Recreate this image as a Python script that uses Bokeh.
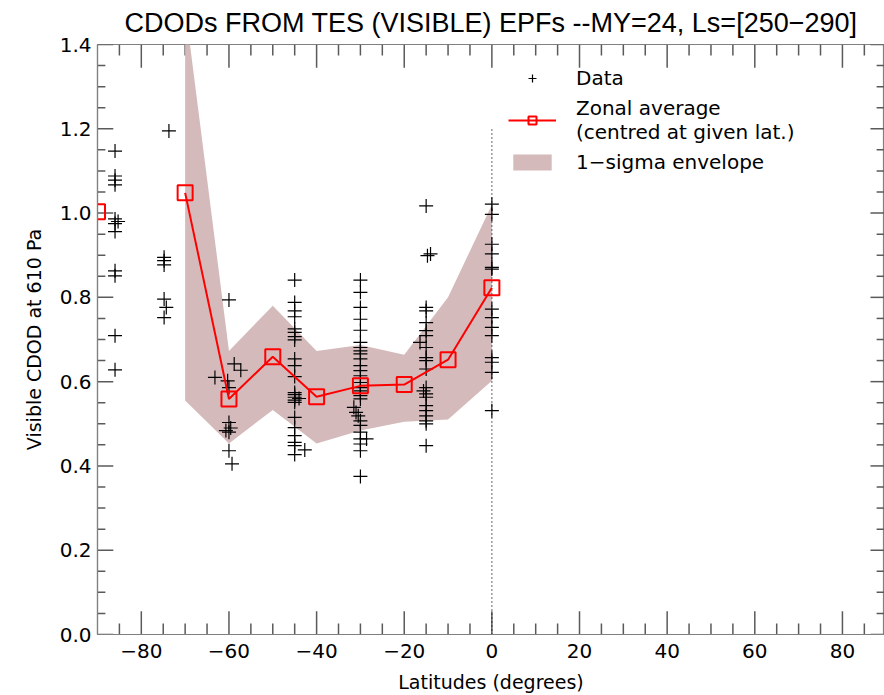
import math
from bokeh.plotting import figure
from bokeh.models import (Range1d, LinearAxis, FixedTicker, Legend, LegendItem,
                          ColumnDataSource)
from bokeh.embed import file_html
from bokeh.resources import INLINE

nan = float("nan")

# ---------------- data ----------------
zonal_lat = [-90, -80, -70, -60, -50, -40, -30, -20, -10, 0]
zonal_mean = [1.003, nan, 1.048, 0.559, 0.659, 0.564, 0.590, 0.593, 0.652, 0.823]

sigma_lat = [-70, -60, -50, -40, -30, -20, -10, 0]
sigma_upper = [1.49, 0.673, 0.780, 0.673, 0.687, 0.664, 0.800, 1.020]
sigma_lower = [0.555, 0.453, 0.533, 0.453, 0.484, 0.505, 0.510, 0.602]

data_lat = (
    [-86.0] * 11 + [-85.3]
    + [-74.8, -74.8, -74.8, -74.8, -74.3, -74.8, -73.7]
    + [-60.0, -58.8, -57.3, -63.2, -60.3, -60.0, -60.0, -60.7, -60.0, -59.6, -60.0, -59.3]
    + [-45.0] * 22 + [-42.7, -44.0]
    + [-30.0] * 18 + [-31.5, -31.0, -30.5] + [-30.0] * 4 + [-28.6, -30.0, -30.0, -30.0]
    + [-15.0, -14.0, -14.7, -15.0, -15.0, -15.0, -15.0, -15.0, -16.4, -15.0, -15.0, -15.0,
       -15.0, -15.0, -15.6, -15.0, -15.0, -15.0, -15.0, -15.0, -15.0, -15.0, -15.0]
    + [0.0] * 14
)
data_cdod = (
    [1.147, 1.088, 1.078, 1.067, 0.986, 0.956, 0.863, 0.851, 0.709, 0.628, 0.975, 0.980]
    + [0.895, 0.887, 0.877, 0.796, 0.776, 0.752, 1.195]
    + [0.794, 0.642, 0.627, 0.610, 0.602, 0.586, 0.503, 0.484, 0.480, 0.490, 0.436, 0.405]
    + [0.841, 0.788, 0.768, 0.754, 0.725, 0.717, 0.707, 0.699, 0.654, 0.638, 0.612, 0.574,
       0.569, 0.563, 0.556, 0.551, 0.515, 0.491, 0.472, 0.456, 0.448, 0.427, 0.438, 0.560]
    + [0.841, 0.812, 0.776, 0.748, 0.722, 0.693, 0.681, 0.673, 0.666, 0.654, 0.638, 0.626,
       0.614, 0.598, 0.586, 0.578, 0.567, 0.559, 0.539, 0.527, 0.519, 0.507, 0.496, 0.480,
       0.464, 0.464, 0.452, 0.436, 0.375]
    + [1.017, 0.903, 0.899, 0.776, 0.768, 0.740, 0.721, 0.709, 0.693, 0.681, 0.657, 0.650,
       0.630, 0.586, 0.578, 0.571, 0.563, 0.543, 0.531, 0.519, 0.507, 0.500, 0.448]
    + [1.021, 0.997, 0.926, 0.903, 0.871, 0.867, 0.772, 0.752, 0.729, 0.709, 0.657, 0.646,
       0.622, 0.531]
)

equator_lat = [0.0]
equator_bottom = [0.0]
equator_top = [1.2]

x_min, x_max, x_edge = -90, 89.6, 90
y_min, y_max = 0.0, 1.4
xtick_values = [-80, -60, -40, -20, 0, 20, 40, 60, 80]
xtick_labels = ["\u221280", "\u221260", "\u221240", "\u221220", "0", "20", "40", "60", "80"]
ytick_values = [0.0, 0.2, 0.4, 0.6, 0.8, 1.0, 1.2, 1.4]
ytick_labels = ["0.0", "0.2", "0.4", "0.6", "0.8", "1.0", "1.2", "1.4"]
x_minor = [v for v in range(-85, 90, 5) if v % 20 != 0]
y_minor = [round(0.05 * i, 2) for i in range(0, 29) if i % 4 != 0]

title_text = "CDODs FROM TES (VISIBLE) EPFs --MY=24, Ls=[250\u2212290]"
xlabel_text = "Latitudes (degrees)"
ylabel_text = "Visible CDOD at 610 Pa"

# ---------------- figure ----------------
FONT = "DejaVu Sans"
BAND = "#d5babc"
AXC = "#5a5a5a"

p = figure(width=884, height=695, output_backend="svg", toolbar_location=None,
           x_range=Range1d(x_min, x_max), y_range=Range1d(y_min, y_max),
           min_border_left=97, min_border_right=0, min_border_top=44, min_border_bottom=61,
           x_axis_location=None, y_axis_location=None)
p.outline_line_color = "#808080"
p.outline_line_width = 1.2
p.grid.visible = False
p.background_fill_color = "white"
p.border_fill_color = "white"

p.title.text = title_text
p.title.align = "center"
p.title.vertical_align = "top"
p.title.text_font = "Liberation Sans"
p.title.text_font_size = "27px"
p.title.text_font_style = "normal"
p.title.text_color = "black"
p.title.standoff = 10

def style_axis(ax):
    ax.axis_line_color = "#808080"
    ax.axis_line_width = 1.2
    ax.major_tick_in = 0
    ax.major_tick_out = 0
    ax.minor_tick_in = 0
    ax.minor_tick_out = 0
    ax.major_tick_line_color = None
    ax.minor_tick_line_color = None
    ax.major_label_text_font = FONT
    ax.major_label_text_font_size = "20px"
    ax.major_label_text_color = "black"
    ax.axis_label_text_font = FONT
    ax.axis_label_text_font_size = "19px"
    ax.axis_label_text_font_style = "normal"
    ax.axis_label_text_color = "black"

xb = LinearAxis(ticker=FixedTicker(ticks=xtick_values),
                major_label_overrides=dict(zip(xtick_values, xtick_labels)),
                axis_label=xlabel_text)
style_axis(xb)
xb.major_label_standoff = 9
xb.axis_label_standoff = 10
p.add_layout(xb, "below")

yl = LinearAxis(ticker=FixedTicker(ticks=ytick_values),
                major_label_overrides={v: l for v, l in zip(ytick_values, ytick_labels)},
                axis_label=ylabel_text)
style_axis(yl)
yl.major_label_standoff = 6
yl.axis_label_standoff = 12
p.add_layout(yl, "left")

# inward tick marks: segments from each frame edge
tick_len_x_major = 0.055   # in data units of y
tick_len_x_minor = 0.026
tick_len_y_major = 3.6     # in data units of x
tick_len_y_minor = 1.8
seg = dict(line_color=AXC, line_width=1.5)
p.segment(x0=xtick_values, y0=[y_min] * 9, x1=xtick_values,
          y1=[y_min + tick_len_x_major] * 9, **seg)
p.segment(x0=x_minor, y0=[y_min] * len(x_minor), x1=x_minor,
          y1=[y_min + tick_len_x_minor] * len(x_minor), **seg)
p.segment(x0=xtick_values, y0=[y_max] * 9, x1=xtick_values,
          y1=[y_max - tick_len_x_major] * 9, **seg)
p.segment(x0=x_minor, y0=[y_max] * len(x_minor), x1=x_minor,
          y1=[y_max - tick_len_x_minor] * len(x_minor), **seg)
p.segment(x0=[x_min] * 8, y0=ytick_values, x1=[x_min + tick_len_y_major] * 8,
          y1=ytick_values, **seg)
p.segment(x0=[x_min] * len(y_minor), y0=y_minor, x1=[x_min + tick_len_y_minor] * len(y_minor),
          y1=y_minor, **seg)
p.segment(x0=[x_edge] * 8, y0=ytick_values, x1=[x_edge - tick_len_y_major] * 8,
          y1=ytick_values, **seg)
p.segment(x0=[x_edge] * len(y_minor), y0=y_minor, x1=[x_edge - tick_len_y_minor - 0.4] * len(y_minor),
          y1=y_minor, **seg)

# ---------------- glyphs ----------------
band_src = ColumnDataSource(dict(x=sigma_lat, lo=sigma_lower, hi=sigma_upper))
band = p.varea(x="x", y1="lo", y2="hi", source=band_src, fill_color=BAND, fill_alpha=1.0)

p.segment(x0=equator_lat, y0=equator_bottom, x1=equator_lat, y1=equator_top,
          line_color="black", line_width=1.2, line_dash="1 3")

pts = p.scatter(x=data_lat, y=data_cdod, marker="cross", size=14,
                line_color="black", line_width=1.2)

zsrc = ColumnDataSource(dict(x=zonal_lat, y=zonal_mean))
zl = p.line(x="x", y="y", source=zsrc, line_color="#ff0000", line_width=2)
zs = p.scatter(x="x", y="y", source=zsrc, marker="square", size=15,
               fill_color=None, line_color="#ff0000", line_width=2)

legend = Legend(items=[
    LegendItem(label="Data", renderers=[pts]),
    LegendItem(label="Zonal average\n(centred at given lat.)", renderers=[zl, zs]),
    LegendItem(label="1\u2212sigma envelope", renderers=[band]),
], location=(411, 460), orientation="vertical")
legend.background_fill_alpha = 0
legend.border_line_color = None
legend.label_text_font = FONT
legend.label_text_font_size = "20px"
legend.label_text_color = "black"
legend.glyph_width = 48
legend.glyph_height = 20
legend.label_standoff = 20
legend.spacing = 6
legend.padding = 0
legend.margin = 0
p.add_layout(legend, "center")

open("out.html", "w").write(file_html(p, INLINE))
